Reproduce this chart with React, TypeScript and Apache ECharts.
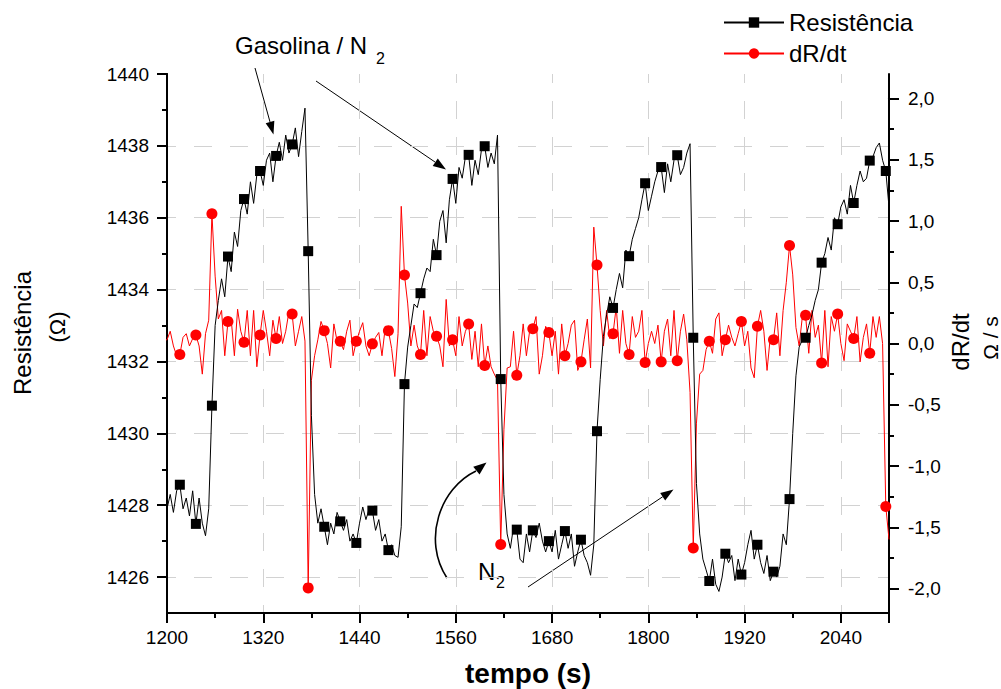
import { useEffect, useRef } from 'react';
import * as echarts from 'echarts';

// sampling of the recorded curves (s)
const TIME_START = 1196;
const TIME_STEP = 4;
const MARKER_EVERY = 5;

const X_MIN = 1200;
const X_MAX = 2100;
const X_INTERVAL = 120;
const R_MIN = 1425;
const R_MAX = 1440;
const R_TICK_MIN = 1426;
const R_TICK_INTERVAL = 2;
const D_MIN = -2.2;
const D_MAX = 2.2;
const D_TICK_MIN = -2;
const D_TICK_MAX = 2;
const D_TICK_INTERVAL = 0.5;

const SERIES_R = 'Resistência';
const SERIES_D = 'dR/dt';

const resistencia = [
  1428.0, 1427.9, 1428.3, 1427.8, 1428.4, 1428.57, 1427.9, 1428.2, 1427.7, 1428.4,
  1427.48, 1428.2, 1427.5, 1427.15, 1427.9, 1430.77, 1433.0, 1433.7, 1434.3, 1433.8,
  1434.92, 1434.5, 1435.6, 1435.2, 1436.2, 1436.52, 1436.1, 1437.0, 1436.4, 1437.2,
  1437.3, 1436.9, 1437.6, 1437.8, 1437.0, 1437.72, 1438.1, 1437.6, 1438.3, 1437.8,
  1438.04, 1438.5, 1437.7, 1438.4, 1439.05, 1435.07, 1430.5, 1428.3, 1427.5, 1427.9,
  1427.4, 1426.9, 1427.5, 1427.2, 1427.8, 1427.55, 1427.3, 1427.6, 1427.0, 1427.2,
  1426.95, 1427.5, 1427.95, 1427.6, 1427.9, 1427.85, 1427.3, 1427.6, 1427.0, 1427.2,
  1426.75, 1426.9, 1426.6, 1426.55, 1427.4, 1431.37, 1432.4, 1433.0, 1433.6, 1433.5,
  1433.9, 1434.3, 1434.6, 1434.5, 1435.4, 1434.96, 1435.9, 1436.2, 1435.3, 1436.5,
  1437.08, 1436.4, 1437.4, 1437.1, 1437.7, 1437.75, 1436.9, 1437.6, 1437.2, 1437.9,
  1437.99, 1437.4, 1437.8, 1437.5, 1438.3, 1431.51, 1428.3, 1427.2, 1426.8, 1427.4,
  1427.32, 1426.5, 1426.4, 1427.2, 1426.7, 1427.3, 1427.1, 1427.5, 1427.0, 1426.7,
  1427.0, 1426.7, 1427.3, 1426.5, 1426.9, 1427.28, 1426.8, 1427.2, 1426.3, 1426.7,
  1427.04, 1426.6, 1426.4, 1426.05, 1426.9, 1430.06, 1431.5, 1432.7, 1433.3, 1433.8,
  1433.49, 1434.0, 1434.45, 1434.05, 1435.1, 1434.93, 1435.4, 1435.7, 1436.0, 1436.5,
  1436.96, 1436.2, 1436.6, 1437.0, 1437.3, 1437.41, 1436.7, 1437.5, 1437.0, 1437.6,
  1437.74, 1437.2, 1437.4, 1437.8, 1438.06, 1432.66, 1428.6, 1427.2, 1426.5, 1426.2,
  1425.89, 1426.5, 1425.8, 1425.6, 1426.0, 1426.65, 1426.4, 1426.6, 1425.9, 1426.5,
  1426.07, 1426.4, 1426.9, 1427.3, 1426.5, 1426.9, 1426.4, 1426.1, 1426.6, 1425.9,
  1426.15, 1426.0, 1426.3, 1427.2, 1426.9, 1428.17, 1430.0, 1431.6, 1432.4, 1432.6,
  1432.66, 1433.0, 1433.3, 1433.7, 1434.0, 1434.75, 1435.0, 1435.45, 1435.1, 1436.0,
  1435.82, 1436.3, 1436.5, 1436.1, 1436.9, 1436.41, 1436.9, 1437.3, 1437.0, 1437.1,
  1437.59, 1437.7, 1437.95, 1438.08, 1437.6, 1437.3, 1436.3,
];

const dRdt = [
  0.03, 0.03, 0.1, -0.02, -0.1, -0.09, 0.05, 0.08, -0.02, 0.04,
  0.07, -0.02, -0.25, 0.08, 0.19, 1.06, 0.55, 0.2, 0.27, -0.1,
  0.18, 0.2, -0.1, 0.28, 0.1, 0.01, 0.27, -0.1, 0.27, -0.19,
  0.07, 0.27, 0.1, -0.1, 0.19, 0.04, 0.22, 0.0, 0.1, 0.26,
  0.24, -0.02, 0.1, 0.22, 0.02, -1.995, -0.3, -0.1, 0.03, 0.18,
  0.105, 0.0, -0.2, 0.16, 0.02, 0.018, -0.05, 0.1, 0.19, -0.1,
  0.018, 0.1, 0.17, -0.02, -0.1, -0.003, 0.05, 0.09, -0.1, 0.13,
  0.105, -0.04, -0.27, 0.08, 1.12, 0.56, 0.33, -0.02, 0.15, -0.02,
  -0.09, 0.27, -0.1, 0.22, 0.1, 0.06, -0.02, -0.19, 0.36, -0.02,
  0.03, -0.1, 0.22, -0.02, 0.1, 0.16, -0.13, 0.1, -0.19, 0.16,
  -0.18, -0.02, -0.19, -0.25, -0.3, -1.64, -0.7, -0.2, -0.19, 0.1,
  -0.26, -0.1, 0.16, -0.1, 0.1, 0.12, 0.22, -0.25, -0.1, 0.14,
  0.09, -0.1, 0.1, -0.25, 0.16, -0.1, 0.0, 0.15, 0.19, -0.22,
  -0.15, 0.03, 0.2, -0.2, 0.95, 0.64, 0.27, -0.02, 0.27, 0.04,
  0.08, 0.3, -0.08, 0.27, 0.0, -0.09, 0.22, 0.05, 0.1, 0.27,
  -0.155, 0.0, 0.1, 0.0, 0.15, -0.15, 0.1, 0.2, -0.1, 0.27,
  -0.14, 0.1, 0.24, 0.03, -0.4, -1.67, -0.65, -0.25, -0.22, -0.05,
  0.018, -0.08, 0.2, 0.25, -0.1, 0.03, 0.15, 0.05, -0.02, 0.08,
  0.18, -0.02, 0.1, -0.2, -0.28, 0.14, 0.27, 0.1, -0.22, 0.05,
  0.03, 0.25, -0.1, 0.27, 0.5, 0.8, 0.56, 0.13, -0.02, 0.22,
  0.23, -0.08, 0.27, 0.05, 0.15, -0.16, 0.27, -0.19, 0.22, 0.1,
  0.24, 0.0, -0.14, 0.16, 0.1, 0.04, 0.22, -0.15, 0.05, 0.16,
  -0.08, 0.22, 0.05, 0.22, 0.0, -1.33, -1.6,
];

const FONT = '"Liberation Sans", Arial, Helvetica, sans-serif';
const GRID_LINE = { color: '#d2d2d2', width: 1, type: [18, 18] as number[], dashOffset: 9 };
const BLACK2 = { color: '#000', width: 2 };

const toPairs = (arr: number[]) => arr.map((v, i) => [TIME_START + TIME_STEP * i, v]);

function arrowParts(x1: number, y1: number, x2: number, y2: number, head = 13, half = 4.5, lineWidth = 1) {
  const dx = x2 - x1;
  const dy = y2 - y1;
  const len = Math.hypot(dx, dy);
  const ux = dx / len;
  const uy = dy / len;
  const bx = x2 - ux * head;
  const by = y2 - uy * head;
  return [
    { type: 'line', silent: true, shape: { x1, y1, x2: bx, y2: by }, style: { stroke: '#000', lineWidth } },
    {
      type: 'polygon',
      silent: true,
      shape: { points: [[x2, y2], [bx - uy * half, by + ux * half], [bx + uy * half, by - ux * half]] },
      style: { fill: '#000' },
    },
  ];
}

function txt(text: string, x: number, y: number, fontSize: number, opts: any = {}) {
  return {
    type: 'text',
    x,
    y,
    rotation: opts.rotation || 0,
    silent: true,
    style: {
      text,
      fontSize,
      fontFamily: FONT,
      fontWeight: opts.bold ? 'bold' : 'normal',
      fill: '#000',
      align: opts.align || 'left',
      textAlign: opts.align || 'left',
      verticalAlign: 'middle',
      textVerticalAlign: 'middle',
    },
  };
}

export default function App() {
  const ref = useRef<HTMLDivElement>(null);

  useEffect(() => {
    document.body.style.margin = '0';
    const chart = echarts.init(ref.current!, null, { renderer: 'svg' });

    const headCurve = arrowParts(476, 471, 486.5, 462.5, 13, 5, 1.6);
    const option: any = {
      animation: false,
      backgroundColor: '#fff',
      textStyle: { fontFamily: FONT },
      grid: [
        { left: 167, right: 112, top: 74, bottom: 76, outerBoundsMode: 'none' },
        { left: 167, right: 112, top: 74, bottom: 111.93, outerBoundsMode: 'none' },
        { left: 167, right: 112, top: 98.5, bottom: 100.5, outerBoundsMode: 'none' },
      ],
      legend: {
        orient: 'vertical',
        left: 718,
        top: 5.5,
        itemWidth: 60,
        itemHeight: 13,
        itemGap: 7,
        selectedMode: false,
        data: [SERIES_R, SERIES_D],
        textStyle: { fontSize: 24, color: '#000', fontFamily: FONT },
      },
      xAxis: [
        {
          gridIndex: 0,
          type: 'value',
          min: X_MIN,
          max: X_MAX,
          interval: X_INTERVAL,
          axisLine: { show: true, onZero: false, lineStyle: BLACK2 },
          axisTick: { show: true, inside: false, length: 10, lineStyle: BLACK2 },
          minorTick: { show: true, splitNumber: 2, length: 5, lineStyle: BLACK2 },
          axisLabel: {
            fontSize: 19,
            color: '#000',
            fontFamily: FONT,
            margin: 15,
            formatter: (v: number) => ((v - X_MIN) % X_INTERVAL === 0 ? String(v) : ''),
          },
          splitLine: { show: true, showMinLine: false, showMaxLine: false, lineStyle: GRID_LINE },
        },
        { gridIndex: 1, type: 'value', min: 0, max: 1, show: false, axisLine: { onZero: false } },
        { gridIndex: 2, type: 'value', min: 0, max: 1, show: false, axisLine: { onZero: false } },
      ],
      yAxis: [
        {
          gridIndex: 0,
          type: 'value',
          position: 'left',
          min: R_MIN,
          max: R_MAX,
          axisLine: { show: true, onZero: false, lineStyle: BLACK2 },
          axisTick: { show: false },
          axisLabel: { show: false },
          splitLine: { show: false },
        },
        {
          gridIndex: 0,
          type: 'value',
          position: 'right',
          min: D_MIN,
          max: D_MAX,
          axisLine: { show: true, onZero: false, lineStyle: BLACK2 },
          axisTick: { show: false },
          axisLabel: { show: false },
          splitLine: { show: false },
        },
        {
          gridIndex: 1,
          type: 'value',
          position: 'left',
          min: R_TICK_MIN,
          max: R_MAX,
          interval: R_TICK_INTERVAL,
          axisLine: { show: true, onZero: false, lineStyle: BLACK2 },
          axisTick: { show: true, inside: false, length: 10, lineStyle: BLACK2 },
          minorTick: { show: true, splitNumber: 2, length: 5, lineStyle: BLACK2 },
          axisLabel: {
            fontSize: 19,
            color: '#000',
            fontFamily: FONT,
            margin: 18,
            formatter: (v: number) => String(v),
          },
          splitLine: { show: true, showMaxLine: false, lineStyle: GRID_LINE },
        },
        {
          gridIndex: 2,
          type: 'value',
          position: 'right',
          min: D_TICK_MIN,
          max: D_TICK_MAX,
          interval: D_TICK_INTERVAL,
          axisLine: { show: true, onZero: false, lineStyle: BLACK2 },
          axisTick: { show: true, inside: false, length: 10, lineStyle: BLACK2 },
          minorTick: { show: true, splitNumber: 2, length: 5, lineStyle: BLACK2 },
          axisLabel: {
            fontSize: 19,
            color: '#000',
            fontFamily: FONT,
            margin: 19,
            formatter: (v: number) => v.toFixed(1).replace('.', ','),
          },
          splitLine: { show: false },
        },
      ],
      series: [
        {
          name: SERIES_D,
          type: 'line',
          xAxisIndex: 0,
          yAxisIndex: 1,
          data: toPairs(dRdt),
          symbol: 'circle',
          symbolSize: (_v: any, p: any) => (p.dataIndex % MARKER_EVERY === 0 ? 11 : 0),
          showSymbol: true,
          showAllSymbol: true,
          clip: true,
          itemStyle: { color: '#ff0000' },
          lineStyle: { color: '#ff0000', width: 1 },
          emphasis: { disabled: true },
          z: 2,
        },
        {
          name: SERIES_R,
          type: 'line',
          xAxisIndex: 0,
          yAxisIndex: 0,
          data: toPairs(resistencia),
          symbol: 'rect',
          symbolSize: (_v: any, p: any) => (p.dataIndex % MARKER_EVERY === 0 ? 10 : 0),
          showSymbol: true,
          showAllSymbol: true,
          clip: true,
          itemStyle: { color: '#000' },
          lineStyle: { color: '#000', width: 1 },
          emphasis: { disabled: true },
          z: 3,
        },
      ],
      graphic: [
        txt('Gasolina / N', 235, 45, 24),
        txt('2', 376, 58, 16),
        txt('N', 478, 571.5, 24),
        txt('2', 496, 582.5, 16),
        txt('tempo (s)', 528, 673, 28, { bold: true, align: 'center' }),
        txt('Resistência', 22, 333, 24, { rotation: Math.PI / 2, align: 'center' }),
        txt('(Ω)', 57, 327, 22, { rotation: Math.PI / 2, align: 'center' }),
        txt('dR/dt', 960, 342, 24, { rotation: Math.PI / 2, align: 'center' }),
        txt('Ω / s', 990, 338, 21, { rotation: Math.PI / 2, align: 'center' }),
        ...arrowParts(255, 68, 273.5, 134.5),
        ...arrowParts(316, 81, 446, 169.5),
        ...arrowParts(528, 587, 673.5, 489.5),
        {
          type: 'bezierCurve',
          silent: true,
          shape: { x1: 447, y1: 578, cpx1: 422, cpy1: 540, cpx2: 440, cpy2: 488, x2: 476, y2: 471 },
          style: { stroke: '#000', lineWidth: 1.6, fill: null },
        },
        headCurve[1],
      ],
    };

    chart.setOption(option);
    return () => chart.dispose();
  }, []);

  return <div ref={ref} style={{ width: 1001, height: 689 }} />;
}
